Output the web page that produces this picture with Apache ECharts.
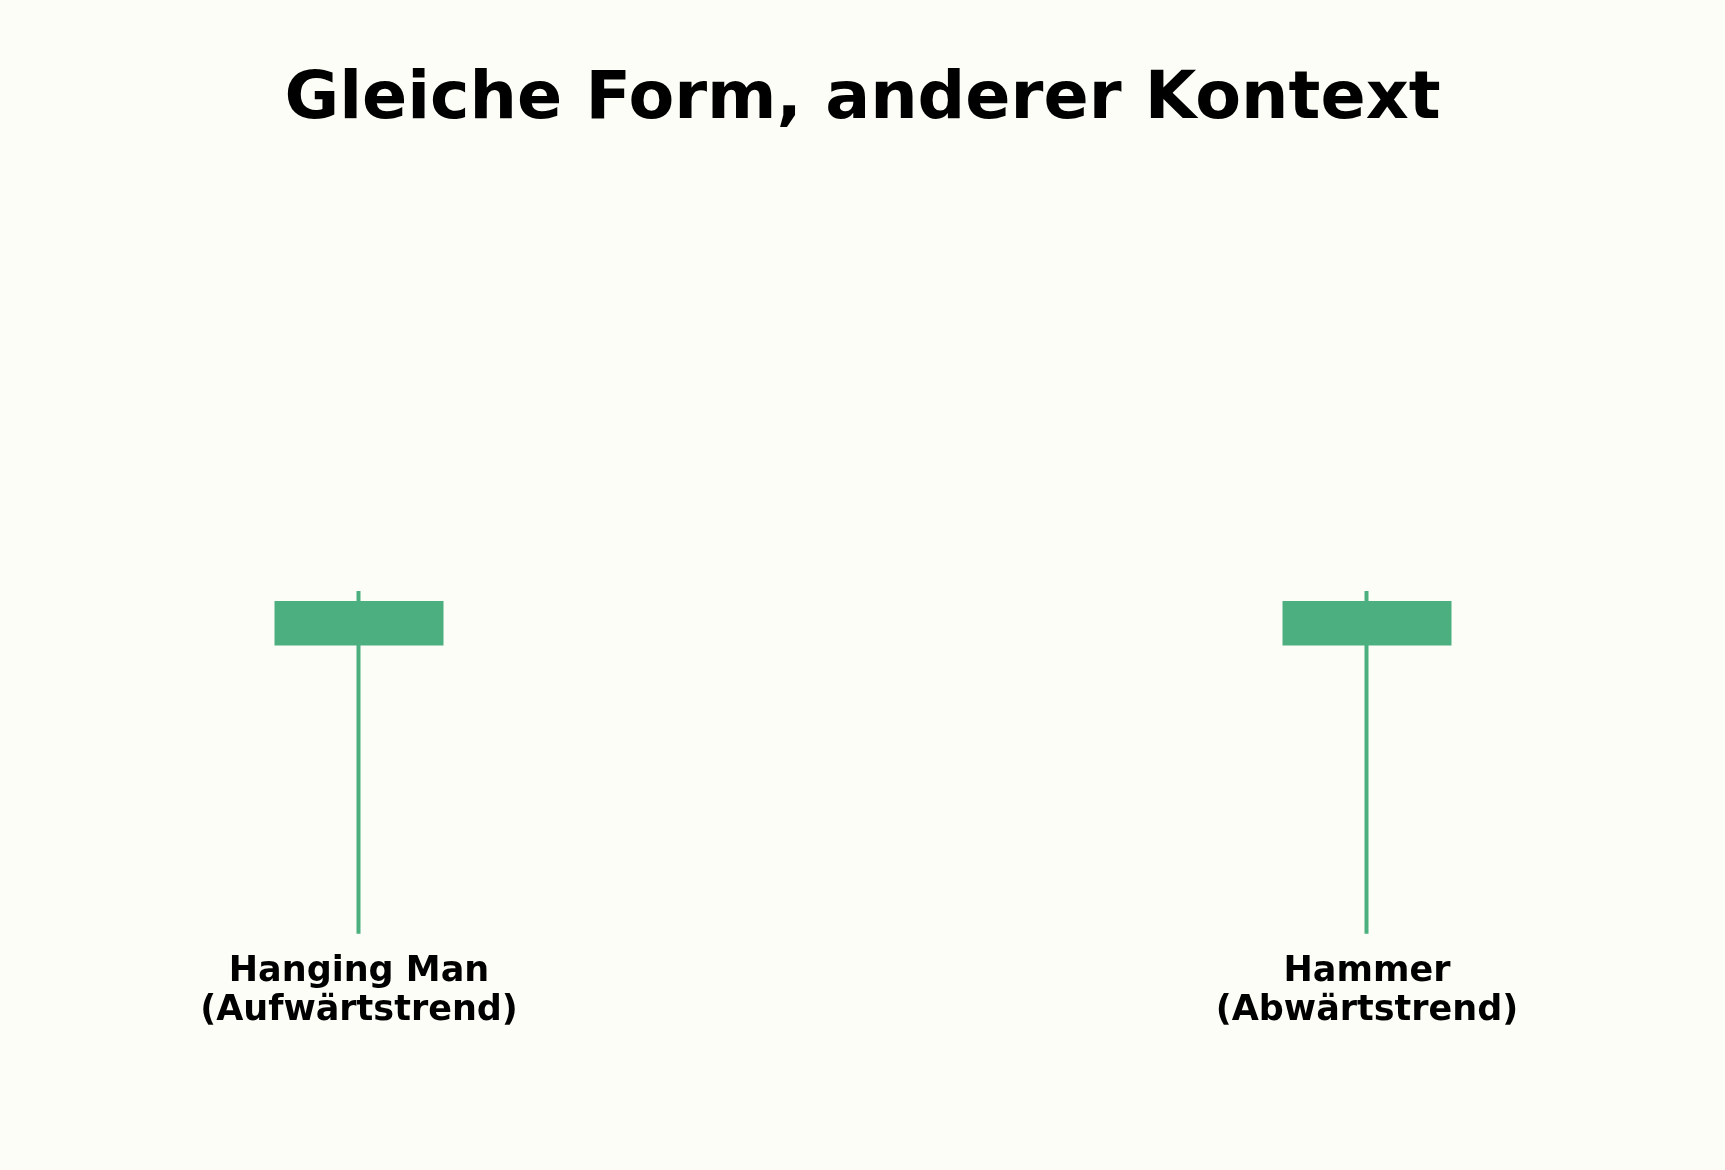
<!DOCTYPE html>
<html lang="de">
  <head>
    <meta charset="UTF-8" />
    <title>Gleiche Form, anderer Kontext</title>
    <style>
      html, body { margin: 0; padding: 0; background: #fdfdf8; }
    </style>
  </head>
  <body>
    <div id="main" style="width: 1725px; height: 1170px"></div>
    <script src="https://cdn.jsdelivr.net/npm/echarts@6/dist/echarts.min.js"></script>
    <script>
      // Kategorien (mittlere Position bleibt leer)
      const categories = ['Hanging Man\n(Aufwärtstrend)', '', 'Hammer\n(Abwärtstrend)']
      // [open, close, low, high]
      const candles = [
        [100, 101.8, 87.1, 102.33],
        '-',
        [100, 101.8, 87.1, 102.33]
      ]
      const yMin = 87
      const yMax = 122

      const green = '#4caf7f'

      const myChart = echarts.init(document.getElementById('main'), null, {
        renderer: 'canvas'
      })

      const option = {
        backgroundColor: '#fdfdf8',
        animation: false,
        title: {
          text: 'Gleiche Form, anderer Kontext',
          left: 'center',
          top: 62,
          textStyle: {
            fontFamily: 'DejaVu Sans',
            fontWeight: 'bold',
            fontSize: 66.7,
            color: '#000'
          }
        },
        grid: {
          left: 107,
          right: 106,
          top: 148.5,
          bottom: 234
        },
        xAxis: {
          type: 'category',
          data: categories,
          axisLine: { show: false },
          axisTick: { show: false },
          splitLine: { show: false },
          axisLabel: {
            margin: 16,
            color: '#000',
            fontFamily: 'DejaVu Sans',
            fontWeight: 'bold',
            fontSize: 35,
            lineHeight: 39,
            interval: 0
          }
        },
        yAxis: {
          type: 'value',
          min: yMin,
          max: yMax,
          show: false,
          splitLine: { show: false }
        },
        series: [
          {
            type: 'candlestick',
            data: candles,
            barWidth: 166,
            itemStyle: {
              color: green,
              color0: green,
              borderColor: green,
              borderColor0: green,
              borderWidth: 4
            }
          }
        ]
      }

      myChart.setOption(option)
    </script>
  </body>
</html>
